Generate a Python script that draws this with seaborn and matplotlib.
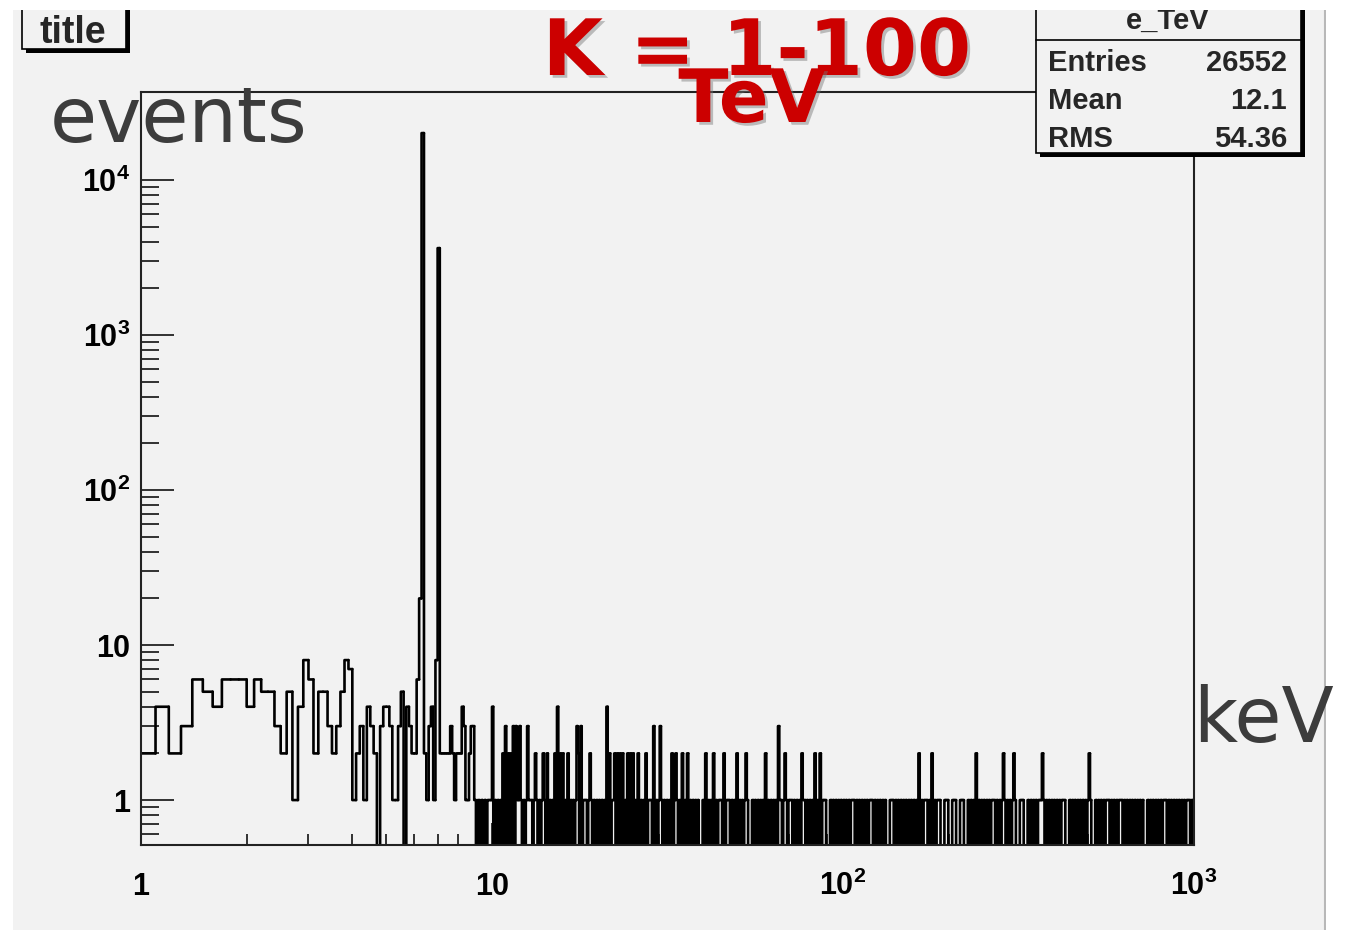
"""ROOT style e_TeV spectrum (log-log step histogram) redrawn with seaborn."""
import matplotlib

matplotlib.use("Agg")
import matplotlib.pyplot as plt
import matplotlib.patheffects as pe
import numpy as np
import pandas as pd
import seaborn as sns
from matplotlib.lines import Line2D
from matplotlib.patches import Rectangle
from matplotlib.ticker import NullFormatter

W, H = 1361, 932

# counts in the 0.1 keV bins from 1.0 to 10.0 keV
low_counts = [
    2, 4, 2, 3, 6, 5, 4, 6, 6, 6,
    4, 6, 5, 5, 3, 2, 5, 1, 4, 8,
    6, 2, 5, 5, 3, 2, 3, 5, 8, 7,
    1, 2, 3, 1, 4, 3, 2, 0, 3, 4,
    4, 3, 1, 1, 3, 5, 0, 4, 3, 2,
    2, 6, 20, 20100, 2, 1, 3, 4, 1, 8,
    3640, 2, 2, 2, 2, 2, 3, 2, 1, 2,
    2, 2, 4, 3, 1, 1, 2, 3, 3, 1,
    0, 1, 0, 1, 0, 1, 0, 1, 1, 1,
]

# tail 10 keV .. 1000 keV, one digit per (narrow, log spaced) bin
tail_digits = (
    "401010102030202030311310101311"
    "101210101210201010204020201020"
    "101013203011101210101010101040"
    "201120202020102020201020101020"
    "111030101310101010201210102010"
    "201010101000102010102010111020"
    "111010102010101210001010101010"
    "201010101031101210111010101021"
    "101010102010201110001010101010"
    "101010111010101010101110101010"
    "101000111010101010101010101020"
    "101110102010111000111000111000"
    "111000101010201010101010111010"
    "101210101012100011100010101010"
    "111210101010101010111000101010"
    "101010101210001010101011101010"
    "101110101010101010101000101010"
    "101010111010101010101010111010"
)
tail_counts = [int(c) for c in tail_digits]

x_ticks = [1, 10, 100, 1000]
x_tick_labels = ["1", "10", r"$\mathbf{10^{2}}$", r"$\mathbf{10^{3}}$"]
y_ticks = [1, 10, 100, 1000, 10000]
y_tick_labels = ["1", "10", r"$\mathbf{10^{2}}$", r"$\mathbf{10^{3}}$", r"$\mathbf{10^{4}}$"]

stats_names = ["Entries", "Mean", "RMS"]
stats_values = ["26552", "12.1", "54.36"]

BG = "#f2f2f2"
RED = "#cc0000"
ROOT_FONT = "Liberation Sans"
Y_MIN, Y_MAX = 0.513, 3.7e4


def fx(x):
    return x / W


def fy(y):
    return 1 - y / H


sns.set_theme(style="white", rc={"axes.facecolor": BG})
plt.rcParams["font.family"] = ["DejaVu Sans"]
plt.rcParams["mathtext.fontset"] = "custom"
plt.rcParams["mathtext.rm"] = ROOT_FONT
plt.rcParams["mathtext.bf"] = f"{ROOT_FONT}:bold"
plt.rcParams["path.simplify"] = False

low_edges = np.round(np.arange(10, 101) / 10, 1)
tail_edges = np.geomspace(10, 1000, len(tail_counts) + 1)
edges = np.concatenate([low_edges, tail_edges[1:]])
counts = np.array(low_counts + tail_counts, dtype=float)

# like ROOT on a log axis, empty bins are drawn at (just below) the frame bottom
shown = np.where(counts > 0, counts, Y_MIN * 0.9)
prev = np.concatenate([[shown[0]], shown[:-1]])
# one little "riser + top" polyline per bin, so the dense part renders solid
rows = []
for i, c in enumerate(shown):
    rows += [(i, edges[i], prev[i]), (i, edges[i], c), (i, edges[i + 1], c)]
df = pd.DataFrame(rows, columns=["bin", "keV", "events"])

fig = plt.figure(figsize=(W / 100, H / 100), dpi=100, facecolor="white")

# grey ROOT canvas
fig.add_artist(Rectangle((fx(13), fy(930)), (1324 - 13) / W, (930 - 10) / H,
                         transform=fig.transFigure, facecolor=BG,
                         edgecolor="none", zorder=-10))
fig.add_artist(Line2D([fx(1324.5)] * 2, [fy(10), fy(930)], color="#b8b8b8",
                      lw=1.5, transform=fig.transFigure, zorder=-9))

ax = fig.add_axes([fx(141), fy(845), (1194 - 141) / W, (845 - 92) / H])
ax.set_facecolor(BG)
sns.lineplot(data=df, x="keV", y="events", units="bin", estimator=None,
             sort=False, color="black", lw=1.9, snap=False, ax=ax)

ax.set_xscale("log")
ax.set_yscale("log")
ax.set_xlim(1, 1000)
ax.set_xlabel("")
ax.set_ylabel("")

for sp in ax.spines.values():
    sp.set_color("#222222")
    sp.set_linewidth(1.5)

ax.set_xticks(x_ticks, x_tick_labels, fontsize=22, fontweight="bold",
              family=ROOT_FONT, va="baseline")
ax.set_xticks([m * 10 ** k for k in range(3) for m in range(2, 10)], minor=True)
ax.set_yticks(y_ticks, y_tick_labels, fontsize=22, fontweight="bold",
              family=ROOT_FONT)
ax.set_yticks([0.6, 0.7, 0.8, 0.9] +
              [m * 10 ** k for k in range(4) for m in range(2, 10)], minor=True)
ax.xaxis.set_minor_formatter(NullFormatter())
ax.yaxis.set_minor_formatter(NullFormatter())
ax.tick_params(axis="both", which="both", direction="in", color="#222222",
               width=1.3, labelcolor="black", left=True, bottom=True,
               right=False, top=False)
ax.tick_params(axis="y", which="major", length=24, pad=8)
ax.tick_params(axis="y", which="minor", length=13)
ax.tick_params(axis="x", which="major", length=16, pad=36)
ax.tick_params(axis="x", which="minor", length=8)
ax.set_ylim(Y_MIN, Y_MAX)

# "title" pave with shadow
fig.add_artist(Rectangle((fx(26), fy(53)), 104 / W, 44 / H, transform=fig.transFigure,
                         facecolor="black", edgecolor="none", zorder=4))
fig.add_artist(Rectangle((fx(22), fy(49)), 104 / W, 44 / H, transform=fig.transFigure,
                         facecolor=BG, edgecolor="black", lw=1.2, zorder=4.5))
fig.text(fx(73), fy(43), "title", fontsize=27, fontweight="bold", family=ROOT_FONT,
         ha="center", va="baseline", zorder=5)

# stats box with shadow
fig.add_artist(Rectangle((fx(1040), fy(157)), 265 / W, 160 / H, transform=fig.transFigure,
                         facecolor="black", edgecolor="none", zorder=4))
fig.add_artist(Rectangle((fx(1036), fy(153)), 265 / W, 160 / H, transform=fig.transFigure,
                         facecolor=BG, edgecolor="black", lw=1.2, zorder=4.5))
fig.add_artist(Line2D([fx(1036), fx(1301)], [fy(40), fy(40)], color="black", lw=1.2,
                      transform=fig.transFigure, zorder=4.6))
fig.text(fx(1168), fy(29), "e_TeV", fontsize=21, fontweight="bold", family=ROOT_FONT,
         ha="center", va="baseline", zorder=5)
for i, (name, val) in enumerate(zip(stats_names, stats_values)):
    base = 71 + 38 * i
    fig.text(fx(1048), fy(base), name, fontsize=21, fontweight="bold",
             family=ROOT_FONT, ha="left", va="baseline", zorder=5)
    fig.text(fx(1287), fy(base), val, fontsize=21, fontweight="bold",
             family=ROOT_FONT, ha="right", va="baseline", zorder=5)

# white margins of the screenshot
for x0, y0, w, h in [(0, 0, W, 10), (0, 0, 13, H), (0, 930, W, 2), (1326, 0, 35, H)]:
    fig.add_artist(Rectangle((fx(x0), fy(y0 + h)), w / W, h / H, transform=fig.transFigure,
                             facecolor="white", edgecolor="none", zorder=8))

# slide overlays
fig.text(fx(50), fy(142), "events", fontsize=55, color="#3c3c3c",
         ha="left", va="baseline", zorder=10)
fig.text(fx(1193), fy(742), "keV", fontsize=55, color="#3c3c3c",
         ha="left", va="baseline", zorder=10)
shadow = [pe.withSimplePatchShadow(offset=(2, -2), shadow_rgbFace="#777777", alpha=0.45)]
fig.text(fx(757), fy(75), "K = 1-100", fontsize=56, fontweight="bold", color=RED,
         ha="center", va="baseline", zorder=11, path_effects=shadow)
fig.text(fx(752), fy(122), "TeV", fontsize=53, fontweight="bold", color=RED,
         ha="center", va="baseline", zorder=12, path_effects=shadow)

fig.savefig("out.png", dpi=100, facecolor="white")
